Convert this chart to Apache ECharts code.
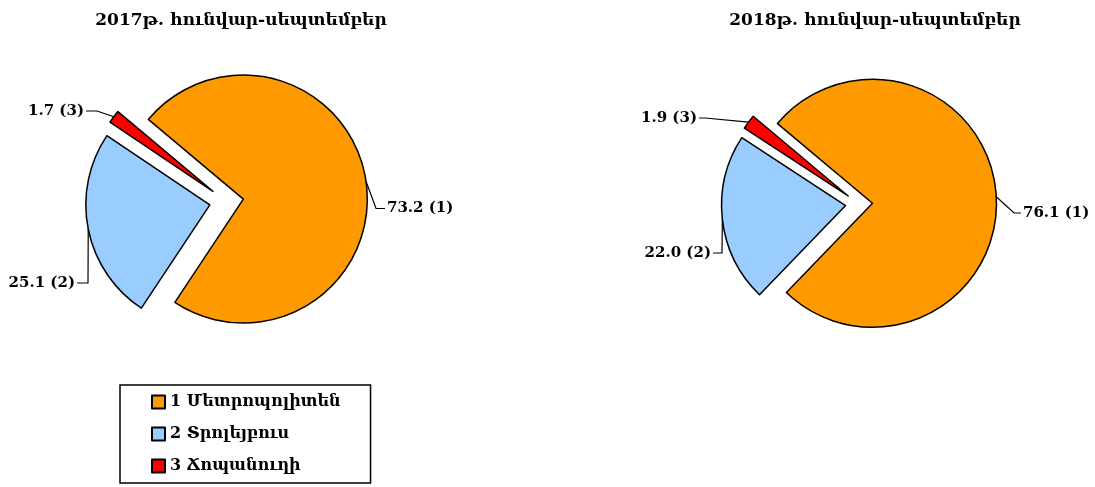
<!DOCTYPE html>
<html>
<head>
<meta charset="utf-8">
<script src="https://cdn.jsdelivr.net/npm/echarts@6/dist/echarts.min.js"></script>
<style>
  html, body { margin: 0; padding: 0; background: #fff; }
  #chart { width: 1095px; height: 487px; }
</style>
</head>
<body>
<div id="chart"></div>
<script>
// data
const categories = ['1 Մետրոպոլիտեն', '2 Տրոլեյբուս', '3 Ճոպանուղի'];
const titles = ['2017թ. հունվար-սեպտեմբեր', '2018թ. հունվար-սեպտեմբեր'];
const values2017 = [73.2, 25.1, 1.7];
const values2018 = [76.1, 22.0, 1.9];

const colors = ['#FF9900', '#99CCFF', '#FF0000'];
const serif = '"DejaVu Serif", serif';

// pie geometry (centers, explode distance)
const centers = [[226.5, 201.5], [859, 204]];
const explode = [17, 13.5];
const radius = 124;

// where each data label text sits (x = text edge next to the leader line, y = middle)
// bend = length of the short horizontal piece of the leader line
const labelPos = [
    [{ x: 387, y: 208.5, bend: 9 }, { x: 75, y: 283, bend: 11 }, { x: 84, y: 111, bend: 11 }],
    [{ x: 1023, y: 213, bend: 7 }, { x: 711, y: 253, bend: 9 }, { x: 697, y: 118, bend: 6 }]
];

let chart = echarts.init(document.getElementById('chart'));

// labels live in the exploded slice's local frame, so shift by the slice offset
const placeLabel = (params) => {
    const s = params.seriesIndex;
    const pos = labelPos[s][params.dataIndex];
    const pts = params.labelLinePoints;
    const rect = params.labelRect;
    const c = centers[s];
    const ux = pts[0][0] - c[0];
    const uy = pts[0][1] - c[1];
    const len = Math.sqrt(ux * ux + uy * uy);
    const ox = explode[s] * ux / len;
    const oy = explode[s] * uy / len;
    const onRight = ux > 0;
    const curX = (onRight ? rect.x : rect.x + rect.width) + ox;
    const curY = rect.y + rect.height / 2 + oy;
    const end = [pos.x + (onRight ? -2 : 2) - ox, pos.y - oy];
    const bend = [end[0] + (onRight ? -pos.bend : pos.bend), end[1]];
    return {
        dx: pos.x - curX,
        dy: pos.y - curY,
        labelLinePoints: [pts[0], bend, end]
    };
};

const makePie = (values, s) => ({
    type: 'pie',
    center: centers[s],
    radius: radius,
    startAngle: 140,
    clockwise: true,
    selectedMode: 'multiple',
    selectedOffset: explode[s],
    avoidLabelOverlap: false,
    animation: false,
    itemStyle: {
        borderColor: '#000',
        borderWidth: 1.5
    },
    emphasis: { disabled: true },
    select: { itemStyle: { borderColor: '#000', borderWidth: 1.5 } },
    label: {
        show: true,
        color: '#000',
        fontFamily: serif,
        fontSize: 15,
        fontWeight: 'bold',
        formatter: p => p.value.toFixed(1) + ' (' + (p.dataIndex + 1) + ')'
    },
    labelLine: {
        show: true,
        length: 10,
        length2: 10,
        lineStyle: { color: '#000', width: 1.2 }
    },
    labelLayout: placeLabel,
    data: categories.map((name, i) => ({
        name: name,
        value: values[i],
        selected: true,
        itemStyle: { color: colors[i] }
    }))
});

const option = {
    animation: false,
    color: colors,
    title: [
        {
            text: titles[0],
            left: 236,
            top: 7,
            textAlign: 'center',
            textStyle: { fontFamily: serif, fontSize: 17, fontWeight: 'bold', color: '#000' }
        },
        {
            text: titles[1],
            left: 870,
            top: 7,
            textAlign: 'center',
            textStyle: { fontFamily: serif, fontSize: 17, fontWeight: 'bold', color: '#000' }
        }
    ],
    legend: {
        orient: 'vertical',
        left: 120,
        top: 385,
        padding: [7, 30, 7, 31],
        itemGap: 12,
        itemWidth: 13,
        itemHeight: 13,
        icon: 'rect',
        borderColor: '#000',
        borderWidth: 1.5,
        borderRadius: 0,
        selectedMode: false,
        data: categories,
        textStyle: { fontFamily: serif, fontSize: 16, fontWeight: 'bold', lineHeight: 20, color: '#000' }
    },
    series: [
        makePie(values2017, 0),
        makePie(values2018, 1)
    ]
};

chart.setOption(option);
</script>
</body>
</html>
